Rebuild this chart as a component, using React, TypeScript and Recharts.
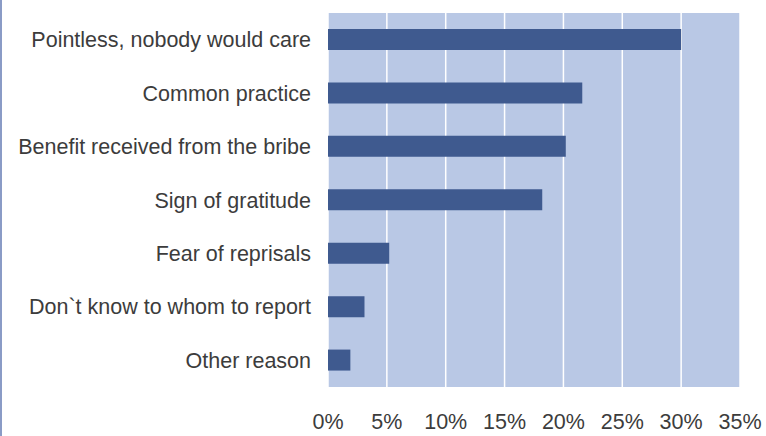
import { BarChart, Bar, XAxis, YAxis, CartesianGrid } from "recharts";

// Reasons for not reporting, share of respondents (%)
const reasons = [
  "Pointless, nobody would care",
  "Common practice",
  "Benefit received from the bribe",
  "Sign of gratitude",
  "Fear of reprisals",
  "Don`t know to whom to report",
  "Other reason",
];
const shares = [30.0, 21.6, 20.2, 18.2, 5.2, 3.1, 1.9];
const xTicks = [0, 5, 10, 15, 20, 25, 30, 35];

const data = reasons.map((name, i) => ({ name, value: shares[i] }));

const font = "'Liberation Sans', Arial, sans-serif";
const textColor = "#3c3c3c";

export default function App() {
  return (
    <div
      style={{
        position: "absolute",
        left: 0,
        top: 0,
        width: 766,
        height: 436,
        background: "#fff",
        fontFamily: font,
      }}
    >
      <div
        style={{
          position: "absolute",
          left: 0,
          top: 0,
          width: 2,
          height: 436,
          background: "#8a9bc6",
        }}
      />
      <BarChart
        width={766}
        height={436}
        data={data}
        layout="vertical"
        margin={{ top: 13, right: 26, bottom: 0, left: 0 }}
        barSize={21}
      >
        <CartesianGrid
          horizontal={false}
          stroke="#ffffff"
          strokeWidth={1.5}
          fill="#b9c8e5"
        />
        <XAxis
          type="number"
          domain={[0, 35]}
          ticks={xTicks}
          tickFormatter={(v) => `${v}%`}
          axisLine={false}
          tickLine={false}
          tickSize={0}
          tickMargin={27}
          height={49}
          tick={{ fill: textColor, fontSize: 21.5, fontFamily: font }}
          interval={0}
        />
        <YAxis
          type="category"
          dataKey="name"
          width={328}
          axisLine={false}
          tickLine={false}
          tickSize={0}
          tickMargin={17}
          tick={{ fill: textColor, fontSize: 21.5, fontFamily: font }}
          interval={0}
        />
        <Bar dataKey="value" fill="#3f5a8f" isAnimationActive={false} />
      </BarChart>
    </div>
  );
}
